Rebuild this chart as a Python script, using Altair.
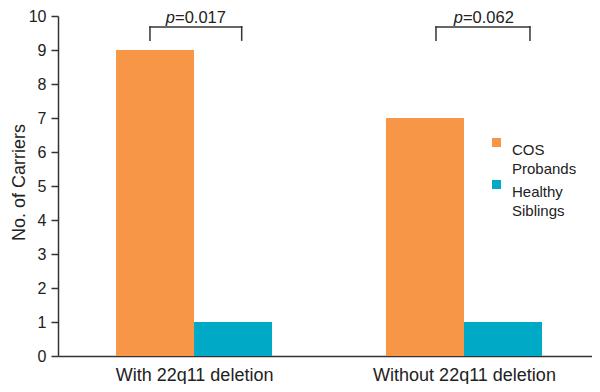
import altair as alt
import pandas as pd

# ---- data ----
groups = ["With 22q11 deletion", "Without 22q11 deletion"]
series = ["COS Probands", "Healthy Siblings"]
cos_probands = [9, 7]
healthy_siblings = [1, 1]
p_values = ["=0.017", "=0.062"]
y_ticks = list(range(0, 11))
colors = ["#F79646", "#00AAC6"]

# ---- layout constants (x in bar-width units, y in data units) ----
FONT = "Liberation Sans"
INK = "#333333"
PLOT_W, PLOT_H = 534, 340
BAR_W = 1.0
X_MAX = PLOT_W / 78.0
GROUP_CENTER = [1.744, 5.205]
BRACKET_SPAN = [(-0.565, 0.611), (-0.359, 0.846)]
TEXT_SPLIT = [-0.244, -0.013]
BR_TOP, BR_BOT, TXT_Y = 9.68, 9.29, 9.79

rows = []
for gi, g in enumerate(groups):
    c = GROUP_CENTER[gi]
    for si, (s, vals) in enumerate(zip(series, [cos_probands, healthy_siblings])):
        rows.append(dict(group=g, series=s, value=vals[gi],
                         x0=c + (si - 1) * BAR_W, x1=c + si * BAR_W))
bars_df = pd.DataFrame(rows)

br_rows = []
txt_rows = []
for gi in range(len(groups)):
    c = GROUP_CENTER[gi]
    l, r = c + BRACKET_SPAN[gi][0], c + BRACKET_SPAN[gi][1]
    br_rows += [dict(x=l, x2=r, y=BR_TOP, y2=BR_TOP),
                dict(x=l, x2=l, y=BR_TOP, y2=BR_BOT),
                dict(x=r, x2=r, y=BR_TOP, y2=BR_BOT)]
    txt_rows.append(dict(x=c + TEXT_SPLIT[gi], y=TXT_Y, p="p", v=p_values[gi]))
br_df = pd.DataFrame(br_rows)
txt_df = pd.DataFrame(txt_rows)

xscale = alt.Scale(domain=[0, X_MAX], nice=False, zero=False)
yscale = alt.Scale(domain=[0, 10], nice=False)

mid = sum(GROUP_CENTER) / 2
label_expr = f"datum.value < {mid} ? '{groups[0]}' : '{groups[1]}'"

xaxis = alt.Axis(
    values=GROUP_CENTER, labelExpr=label_expr, title=None, ticks=False,
    grid=False, labelFontSize=18, labelPadding=10, labelFont=FONT,
    labelColor="#222222", domainColor=INK, domainWidth=1.5, labelLimit=400,
    labelFlush=False, labelBound=False, labelOverlap=False)
yaxis = alt.Axis(
    values=y_ticks, title="No. of Carriers", titleFontSize=18,
    titleFont=FONT, titleFontWeight="normal", titleColor="#222222",
    titleX=-34, titleY=166, titleAngle=270, titleAlign="center",
    titleBaseline="alphabetic", tickSize=7, tickColor=INK, tickWidth=1.5,
    domainColor=INK, domainWidth=1.5, labelFontSize=16, labelPadding=5,
    labelFont=FONT, labelColor="#222222", grid=False, labelFlush=False)

bars = alt.Chart(bars_df).mark_rect().encode(
    x=alt.X("x0:Q", scale=xscale, axis=xaxis),
    x2="x1:Q",
    y=alt.Y("value:Q", scale=yscale, axis=yaxis),
    y2=alt.datum(0),
    color=alt.Color("series:N", scale=alt.Scale(domain=series, range=colors),
                    legend=alt.Legend(
                        title=None, orient="none", legendX=431, legendY=119,
                        symbolType="square", symbolSize=81, symbolStrokeWidth=0,
                        labelFontSize=15, labelFont=FONT, labelColor="#222222",
                        labelExpr="split(datum.label, ' ')", labelOffset=8,
                        padding=0, rowPadding=-2, labelBaseline="top")),
)

rules = alt.Chart(br_df).mark_rule(color=INK, strokeWidth=1.5, strokeCap="square").encode(
    x=alt.X("x:Q", scale=xscale, axis=xaxis),
    x2="x2:Q",
    y=alt.Y("y:Q", scale=yscale, axis=yaxis),
    y2="y2:Q",
)

ptext = alt.Chart(txt_df).mark_text(
    font=FONT, fontSize=16.5, fontStyle="italic", align="right",
    baseline="alphabetic", color="#222222", clip=False
).encode(
    x=alt.X("x:Q", scale=xscale, axis=xaxis),
    y=alt.Y("y:Q", scale=yscale, axis=yaxis),
    text="p:N",
)

vtext = alt.Chart(txt_df).mark_text(
    font=FONT, fontSize=16.5, align="left", baseline="alphabetic",
    color="#222222", clip=False
).encode(
    x=alt.X("x:Q", scale=xscale, axis=xaxis),
    y=alt.Y("y:Q", scale=yscale, axis=yaxis),
    text="v:N",
)

chart = alt.layer(bars, rules, ptext, vtext).properties(
    width=PLOT_W, height=PLOT_H,
    autosize=alt.AutoSizeParams(type="none"),
    padding={"left": 50, "top": 8, "right": 0, "bottom": 28},
).configure(
    style={"guide-label": {"lineHeight": 19}}
).configure_view(stroke=None)

chart.save("out.html", embed_options={"renderer": "svg", "actions": False})
